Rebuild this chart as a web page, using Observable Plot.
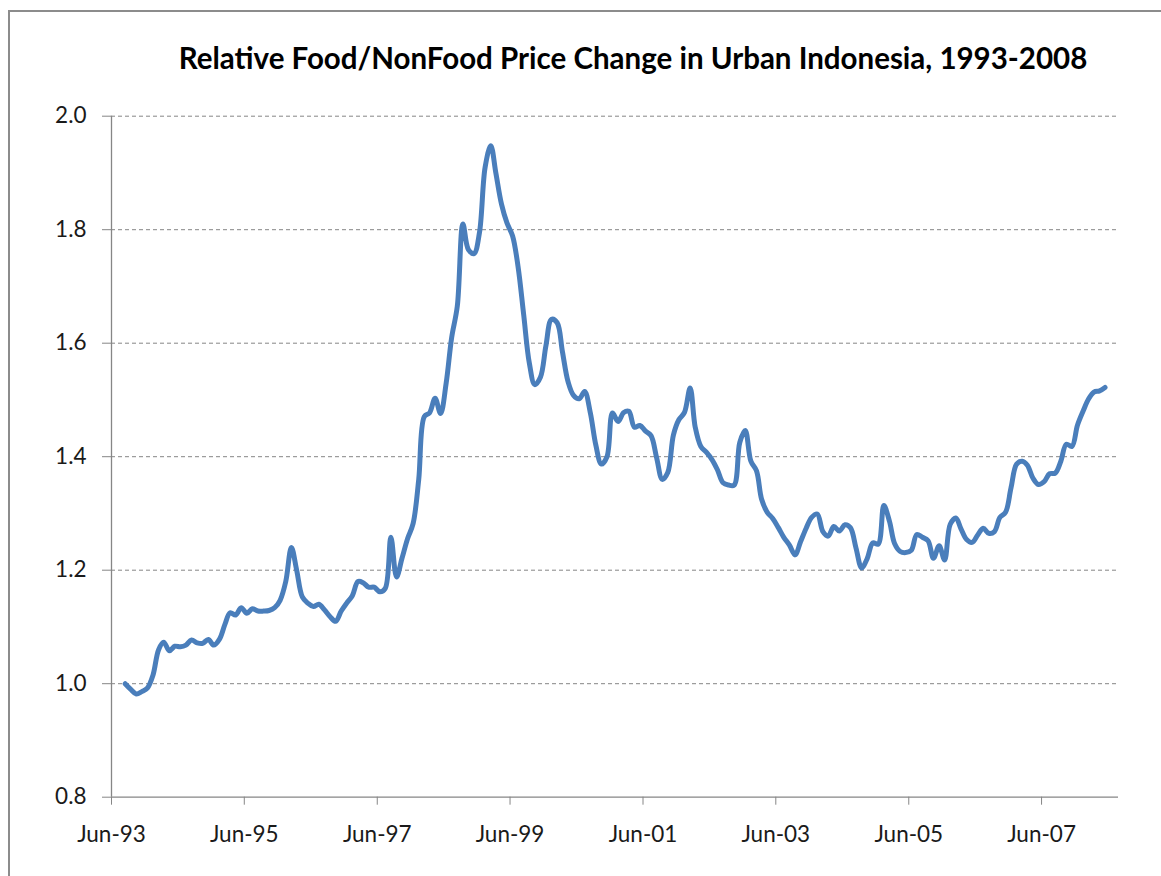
<!DOCTYPE html>
<html>
<head>
<meta charset="utf-8">
<script src="https://cdn.jsdelivr.net/npm/d3@7"></script>
<script src="https://cdn.jsdelivr.net/npm/@observablehq/plot@0.6"></script>
<style>
  html, body { margin: 0; padding: 0; background: #fff; width: 1161px; height: 876px; overflow: hidden; }
  #frame { position: absolute; left: 8px; top: 10px; width: 1200px; height: 900px; z-index: 5; pointer-events: none;
           border-left: 2px solid #8c8c8c; border-top: 2px solid #8c8c8c; box-sizing: border-box; }
  #title { position: absolute; left: 633px; top: 40px; transform: translateX(-50%); white-space: nowrap;
           font-family: Lato, "Open Sans", sans-serif; font-weight: bold; font-size: 29.5px; color: #000; }
  #chart { position: absolute; left: 0; top: 90px; }
</style>
</head>
<body>
<div id="frame"></div>
<div id="title">Relative Food/NonFood Price Change in Urban Indonesia, 1993-2008</div>
<div id="chart"></div>
<script>
// First month of the series (values are monthly, plotted mid-month)
const firstMonth = "1993-08-15";

// Relative food / non-food price index (monthly)
const values = [
  1.000, 0.990, 0.982, 0.986, 0.992, 1.015, 1.060, 1.073, 1.058, 1.066,
  1.065, 1.068, 1.077, 1.072, 1.071, 1.078, 1.068, 1.078, 1.105, 1.125,
  1.121, 1.134, 1.124, 1.132, 1.128, 1.128, 1.129, 1.134, 1.147, 1.180,
  1.240, 1.200, 1.153, 1.142, 1.136, 1.140, 1.130, 1.118, 1.110, 1.128,
  1.142, 1.155, 1.180, 1.178, 1.170, 1.170, 1.162, 1.168, 1.258, 1.188,
  1.221, 1.256, 1.282, 1.360, 1.471, 1.477, 1.503, 1.476, 1.530, 1.610,
  1.665, 1.810, 1.765, 1.758, 1.795, 1.910, 1.948, 1.900, 1.845, 1.812,
  1.789, 1.735, 1.650, 1.565, 1.527, 1.540, 1.595, 1.642, 1.636, 1.585,
  1.532, 1.508, 1.502, 1.515, 1.478, 1.420, 1.387, 1.400, 1.477, 1.462,
  1.478, 1.480, 1.452, 1.455, 1.445, 1.437, 1.398, 1.360, 1.372, 1.438,
  1.465, 1.478, 1.521, 1.452, 1.418, 1.408, 1.395, 1.377, 1.354, 1.350,
  1.350, 1.425, 1.446, 1.392, 1.375, 1.325, 1.302, 1.291, 1.275, 1.258,
  1.244, 1.227, 1.250, 1.274, 1.293, 1.299, 1.268, 1.260, 1.277, 1.269,
  1.280, 1.275, 1.239, 1.204, 1.220, 1.248, 1.246, 1.314, 1.286, 1.247,
  1.233, 1.231, 1.235, 1.263, 1.258, 1.252, 1.221, 1.243, 1.218, 1.281,
  1.292, 1.273, 1.254, 1.249, 1.262, 1.274, 1.265, 1.268, 1.293, 1.302,
  1.345, 1.387, 1.392, 1.385, 1.362, 1.351, 1.356, 1.370, 1.371, 1.392,
  1.422, 1.418, 1.455, 1.480, 1.502, 1.514, 1.516, 1.522
];

// Axis ticks
const xTicks = ["1993-06-01", "1995-06-01", "1997-06-01", "1999-06-01",
                "2001-06-01", "2003-06-01", "2005-06-01", "2007-06-01"];
const yTicks = [0.8, 1.0, 1.2, 1.4, 1.6, 1.8, 2.0];
const xDomain = ["1993-06-01", "2008-07-28"];

const start = new Date(firstMonth);
const data = values.map((v, i) => ({ date: d3.utcMonth.offset(start, i), value: v }));
const xTickDates = xTicks.map(d => new Date(d));
const axisColor = "#868686";
const labelFont = 22.5;

const chart = Plot.plot({
  width: 1161,
  height: 786,
  marginLeft: 111,
  marginRight: 43,
  marginTop: 25.7,
  marginBottom: 79.3,
  style: { fontFamily: "Lato, 'Open Sans', sans-serif", fontSize: labelFont + "px", color: "#1a1a1a", background: "transparent" },
  x: { type: "utc", domain: xDomain.map(d => new Date(d)) },
  y: { domain: [yTicks[0], yTicks[yTicks.length - 1]] },
  marks: [
    Plot.gridY(yTicks.slice(1), { stroke: axisColor, strokeOpacity: 1, strokeWidth: 1, strokeDasharray: "4,3" }),
    Plot.ruleX([new Date(xDomain[0])], { y1: yTicks[0], y2: yTicks[yTicks.length - 1], stroke: axisColor, strokeWidth: 1.3 }),
    Plot.ruleY([yTicks[0]], { stroke: axisColor, strokeWidth: 1.3 }),
    Plot.axisY({ ticks: yTicks, tickFormat: d3.format(".1f"), tickSize: 9, tickPadding: 16,
                 stroke: axisColor, fill: "#1a1a1a", fontSize: labelFont, label: null }),
    Plot.axisX({ ticks: xTickDates, tickFormat: d3.utcFormat("%b-%y"), tickSize: 8, tickPadding: 21,
                 stroke: axisColor, fill: "#1a1a1a", fontSize: labelFont, label: null }),
    Plot.line(data, { x: "date", y: "value", stroke: "#4a7ebb", strokeWidth: 5, curve: "catmull-rom" })
  ]
});
document.getElementById("chart").appendChild(chart);
</script>
</body>
</html>
